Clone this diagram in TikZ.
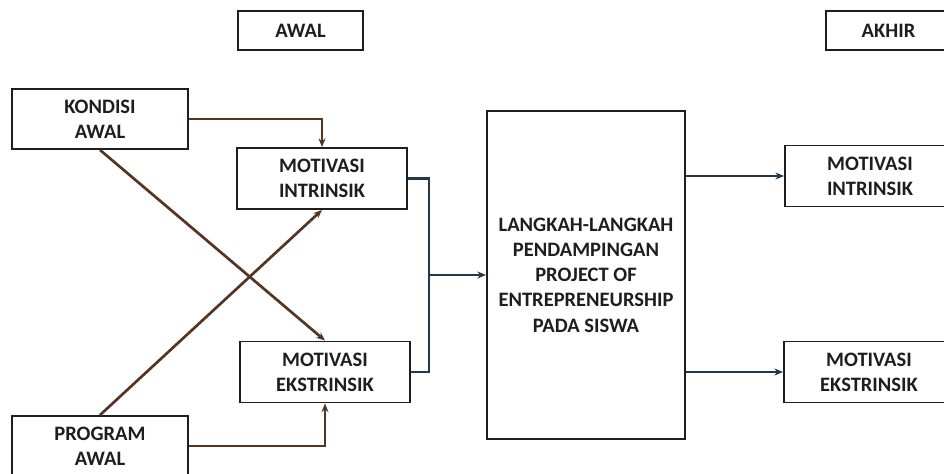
\documentclass[tikz,border=0pt]{standalone}
\usepackage{fontspec}
\setmainfont{Carlito}
\usetikzlibrary{arrows.meta,calc,positioning}
\definecolor{ink}{HTML}{1E1E1E}
\definecolor{brownline}{HTML}{553422}
\definecolor{navyline}{HTML}{22384C}
\newcommand{\boxfont}{\fontsize{17.5}{21.5}\selectfont\bfseries}
\tikzset{
 every node/.append style={font=\boxfont,text=ink,align=center},
 box/.style={draw=ink,fill=white,line width=1.6pt,inner sep=2pt},
 tag/.style={box,minimum width=3.75cm,minimum height=1.17cm},
 side/.style={box,minimum width=5.28cm,minimum height=1.8cm},
 motiv/.style={box,minimum width=5.1cm,minimum height=1.83cm},
 pull/.style={-{Stealth[length=2.6mm,width=2.1mm]},draw=brownline,line width=2.3pt},
 push/.style={-{Stealth[length=2.6mm,width=2.1mm]},draw=navyline,line width=2.3pt},
 route/.style={draw=navyline,line width=2.3pt},
}

\begin{document}
\begin{tikzpicture}[x=0.03cm,y=-0.03cm]

\useasboundingbox (0,0) rectangle (944,474);
\node[tag] (awal) at (300.5,30.5) {AWAL};
\node[tag] (akhir) at (888.5,30.5) {AKHIR};
\node[side] (kondisi) at (100,119) {KONDISI\\AWAL};
\node[side] (program) at (100,446) {PROGRAM\\AWAL};
\node[motiv] (mi) at (322,178.5) {MOTIVASI\\INTRINSIK};
\node[motiv] (me) at (325,372) {MOTIVASI\\EKSTRINSIK};
\node[box,minimum width=5.94cm,minimum height=9.84cm] (langkah) at (586,275) {LANGKAH-LANGKAH\\PENDAMPINGAN\\PROJECT OF\\ENTREPRENEURSHIP\\PADA SISWA};
\node[motiv] (rmi) at (870,176) {MOTIVASI\\INTRINSIK};
\node[motiv] (rme) at (869,372) {MOTIVASI\\EKSTRINSIK};
\coordinate (jtop) at (429,178.5);
\coordinate (jbot) at (429,372);
% awal -> motivasi
\draw[pull] (kondisi.east) -| (mi.north);
\draw[pull] (program.east) -| (me.south);
\draw[pull] (kondisi.south) -- (me.north);
\draw[pull] (program.north) -- (mi.south);
% motivasi -> langkah
\draw[route] (mi.east) -- (jtop) -- (jbot) -- (me.east);
\draw[push] (jtop |- langkah.west) -- (langkah.west);
% langkah -> akhir
\draw[push] (langkah.east |- rmi.west) -- (rmi.west);
\draw[push] (langkah.east |- rme.west) -- (rme.west);

\end{tikzpicture}
\end{document}
